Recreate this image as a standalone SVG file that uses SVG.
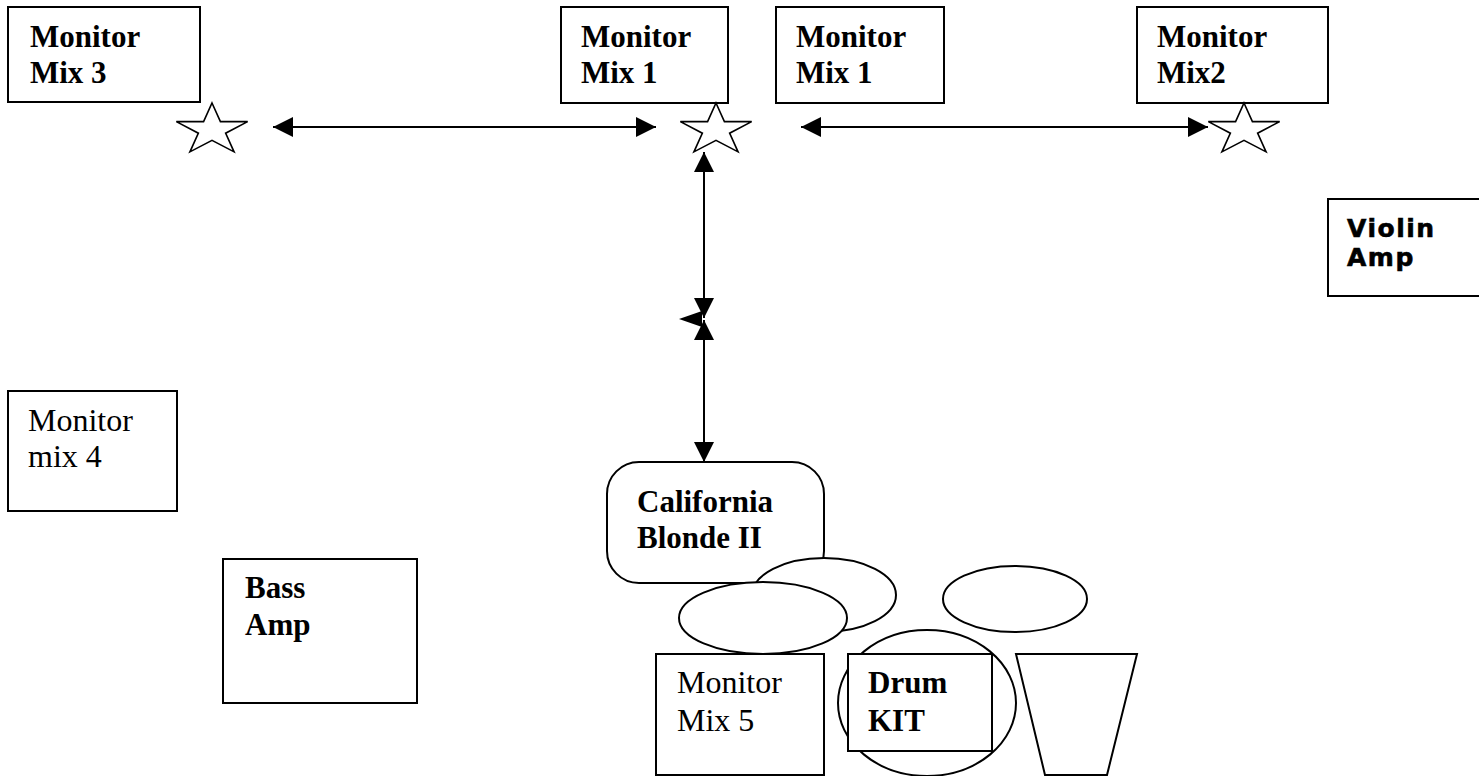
<svg xmlns="http://www.w3.org/2000/svg" xmlns:xlink="http://www.w3.org/1999/xlink" width="1479" height="776" viewBox="0 0 1479 776">
<style>
.box{fill:#fff;stroke:#000;stroke-width:2}
.star{fill:#fff;stroke:#000;stroke-width:1.6}
.tb{font-family:"Liberation Serif","Times New Roman",serif;font-weight:bold;font-size:31px;fill:#000}
.tr{font-family:"Liberation Serif","Times New Roman",serif;font-size:32px;fill:#000}
.ts{font-family:"DejaVu Sans",Verdana,sans-serif;font-weight:bold;font-size:25px;letter-spacing:1.5px;fill:#000;stroke:#000;stroke-width:0.6}
.conn{stroke:#000;stroke-width:2;fill:none}
</style>
<defs>
<marker id="ah" viewBox="0 0 20 20" refX="20" refY="10" markerWidth="20" markerHeight="20" markerUnits="userSpaceOnUse" orient="auto-start-reverse">
<path d="M0,0 L20,10 L0,20 z" fill="#000"/>
</marker>
<polygon id="star" points="0,-27 8.42,-8.34 35.66,-8.34 13.62,3.19 22.05,21.84 0,10.31 -22.05,21.84 -13.62,3.19 -35.66,-8.34 -8.42,-8.34"/>
</defs>
<rect width="1479" height="776" fill="#fff"/>

<g id="mm3"><rect class="box" x="8" y="7" width="192" height="95"/><text class="tb" x="30" y="47">Monitor</text><text class="tb" x="30" y="83">Mix 3</text></g>
<g id="mm1a"><rect class="box" x="561" y="7" width="167" height="96"/><text class="tb" x="581" y="47">Monitor</text><text class="tb" x="581" y="83">Mix 1</text></g>
<g id="mm1b"><rect class="box" x="776" y="7" width="168" height="96"/><text class="tb" x="796" y="47">Monitor</text><text class="tb" x="796" y="83">Mix 1</text></g>
<g id="mm2"><rect class="box" x="1137" y="7" width="191" height="96"/><text class="tb" x="1157" y="47">Monitor</text><text class="tb" x="1157" y="83">Mix2</text></g>

<g id="star1"><use xlink:href="#star" class="star" x="212" y="130"/></g>
<g id="star2"><use xlink:href="#star" class="star" x="716" y="130"/></g>
<g id="star3"><use xlink:href="#star" class="star" x="1244" y="130"/></g>

<g id="violin"><rect class="box" x="1328" y="199" width="170" height="97"/><text class="ts" x="1347" y="237">Violin</text><text class="ts" x="1347" y="266">Amp</text></g>

<g id="mm4"><rect class="box" x="8" y="391" width="169" height="120"/><text class="tr" x="28" y="431">Monitor</text><text class="tr" x="28" y="467">mix 4</text></g>
<g id="bass"><rect class="box" x="223" y="559" width="194" height="144"/><text class="tb" x="245" y="598">Bass</text><text class="tb" x="245" y="635">Amp</text></g>

<g id="california"><rect class="box" x="607" y="462" width="217" height="121" rx="32" ry="32"/><text class="tb" x="637" y="512">California</text><text class="tb" x="637" y="548">Blonde II</text></g>
<g id="drum1"><ellipse class="box" cx="824" cy="595" rx="72" ry="37"/></g>
<g id="drum2"><ellipse class="box" cx="763" cy="618" rx="84" ry="36"/></g>
<g id="drum3"><ellipse class="box" cx="1015" cy="599" rx="72" ry="33"/></g>
<g id="drum4"><ellipse class="box" cx="927" cy="703" rx="89" ry="73"/></g>
<g id="drumkit"><rect class="box" x="848" y="654" width="144" height="97"/><text class="tb" x="868" y="693">Drum</text><text class="tb" x="868" y="731">KIT</text></g>
<g id="mm5"><rect class="box" x="656" y="654" width="168" height="121"/><text class="tr" x="677" y="693">Monitor</text><text class="tr" x="677" y="731">Mix 5</text></g>
<g id="cymbal"><polygon class="box" points="1016,654 1137,654 1107,775 1045,775"/></g>

<g id="connectors">
<line class="conn" x1="273" y1="127" x2="656" y2="127" marker-start="url(#ah)" marker-end="url(#ah)"/>
<line class="conn" x1="801" y1="127" x2="1208" y2="127" marker-start="url(#ah)" marker-end="url(#ah)"/>
<line class="conn" x1="704" y1="152" x2="704" y2="318" marker-start="url(#ah)" marker-end="url(#ah)"/>
<line class="conn" x1="704" y1="320" x2="704" y2="462" marker-start="url(#ah)" marker-end="url(#ah)"/>
<polygon points="679,319 702,311 702,327" fill="#000"/>
</g>
</svg>
